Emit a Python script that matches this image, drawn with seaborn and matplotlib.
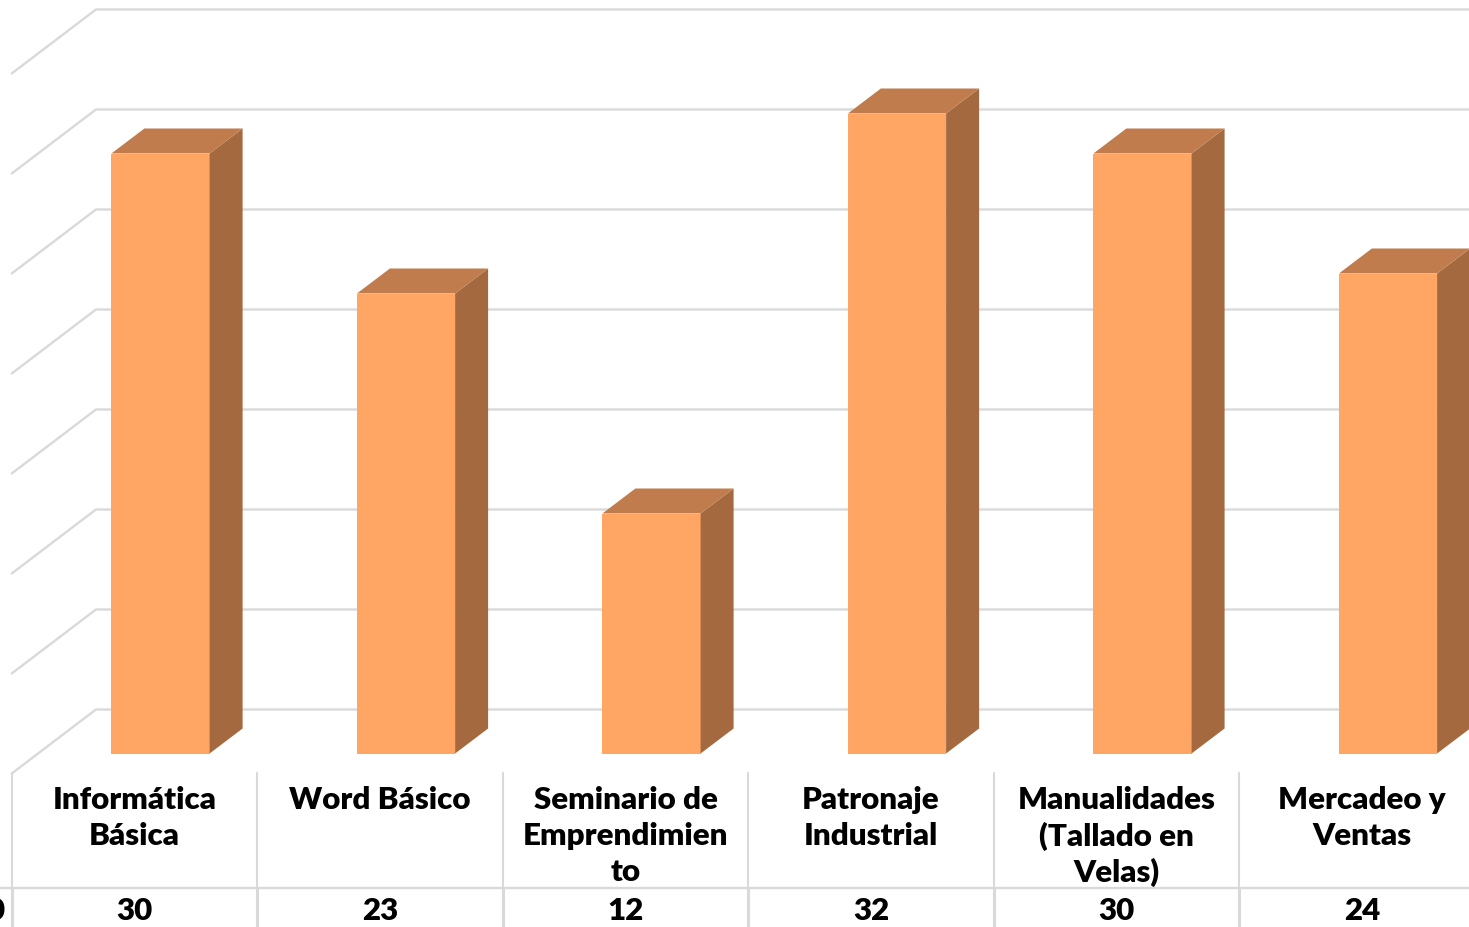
import matplotlib
matplotlib.use('Agg')
import matplotlib.pyplot as plt
from matplotlib.patches import Polygon
import pandas as pd
import seaborn as sns

############# Data ######################################
cursos = ['Informática Básica', 'Word Básico', 'Seminario de Emprendimiento',
          'Patronaje Industrial', 'Manualidades (Tallado en Velas)', 'Mercadeo y Ventas']
etiquetas = [['Informática', 'Básica'], ['Word Básico'], ['Seminario de', 'Emprendimien', 'to'],
             ['Patronaje', 'Industrial'], ['Manualidades', '(Tallado en', 'Velas)'], ['Mercadeo y', 'Ventas']]
valores = [30, 23, 12, 32, 30, 24]
niveles = [0, 5, 10, 15, 20, 25, 30, 35]

############# Style #####################################
sns.set_theme(style='white')
plt.rcParams['font.family'] = ['Lato', 'DejaVu Sans']
frente = '#FFA664'
tapa = '#C07C4C'
lado = '#A4693F'
gris = '#D9D9D9'
fuente = 22.5
peso = 'heavy'

# depth of the fake 3D, in axis units
bar_dx, bar_dy = 33 / 245.5, 1.25
pared_izq, pared_der = -0.606, -0.263
pared_base, suelo = -1.0, 2.2

############# Plot ######################################
fig = plt.figure(figsize=(14.69, 9.27), dpi=100)
ax = fig.add_axes([0, 0, 1, 1])
df = pd.DataFrame({'curso': cursos, 'valor': valores})
sns.barplot(data=df, x='curso', y='valor', color=frente, saturation=1, width=0.4, linewidth=0, ax=ax, zorder=3)
ax.set_xlim(-0.6538, 5.33)
ax.set_ylim(-8.675, 37.675)
ax.axis('off')

# back wall + left wall gridlines
for v in niveles:
    ax.plot([pared_izq, pared_der, 5.33], [v + pared_base, v + suelo, v + suelo],
            color=gris, lw=1.7, zorder=1, solid_joinstyle='miter')

# side and top faces of each bar
for p in ax.patches:
    x0, w, h = p.get_x(), p.get_width(), p.get_height()
    x1 = x0 + w
    ax.add_patch(Polygon([(x1, 0), (x1 + bar_dx, bar_dy), (x1 + bar_dx, h + bar_dy), (x1, h)],
                         closed=True, facecolor=lado, edgecolor='none', zorder=3))
    ax.add_patch(Polygon([(x0, h), (x0 + bar_dx, h + bar_dy), (x1 + bar_dx, h + bar_dy), (x1, h)],
                         closed=True, facecolor=tapa, edgecolor='none', zorder=3))

# data table under the bars
for i, (lineas, val) in enumerate(zip(etiquetas, valores)):
    centro = i - 0.106
    ax.plot([centro - 0.5] * 2, [-0.95, -6.7], color=gris, lw=1.5, zorder=1)
    ax.plot([centro - 0.5] * 2, [-6.7, -8.7], color=gris, lw=2.2, zorder=1)
    for j, linea in enumerate(lineas):
        ax.text(centro, -2.34 - 1.8 * j, linea, ha='center', va='center', fontsize=fuente,
                fontweight=peso, color='black')
    ax.text(centro, -7.9, str(val), ha='center', va='center', fontsize=fuente,
            fontweight=peso, color='black')
ax.plot([-0.6538, 5.33], [-6.7, -6.7], color=gris, lw=1.7, zorder=1)
# clipped value from the column cut off at the left edge
ax.text(-0.6375, -7.9, '0', ha='right', va='center', fontsize=fuente, fontweight=peso, color='black')

fig.savefig('out.png', dpi=100)
